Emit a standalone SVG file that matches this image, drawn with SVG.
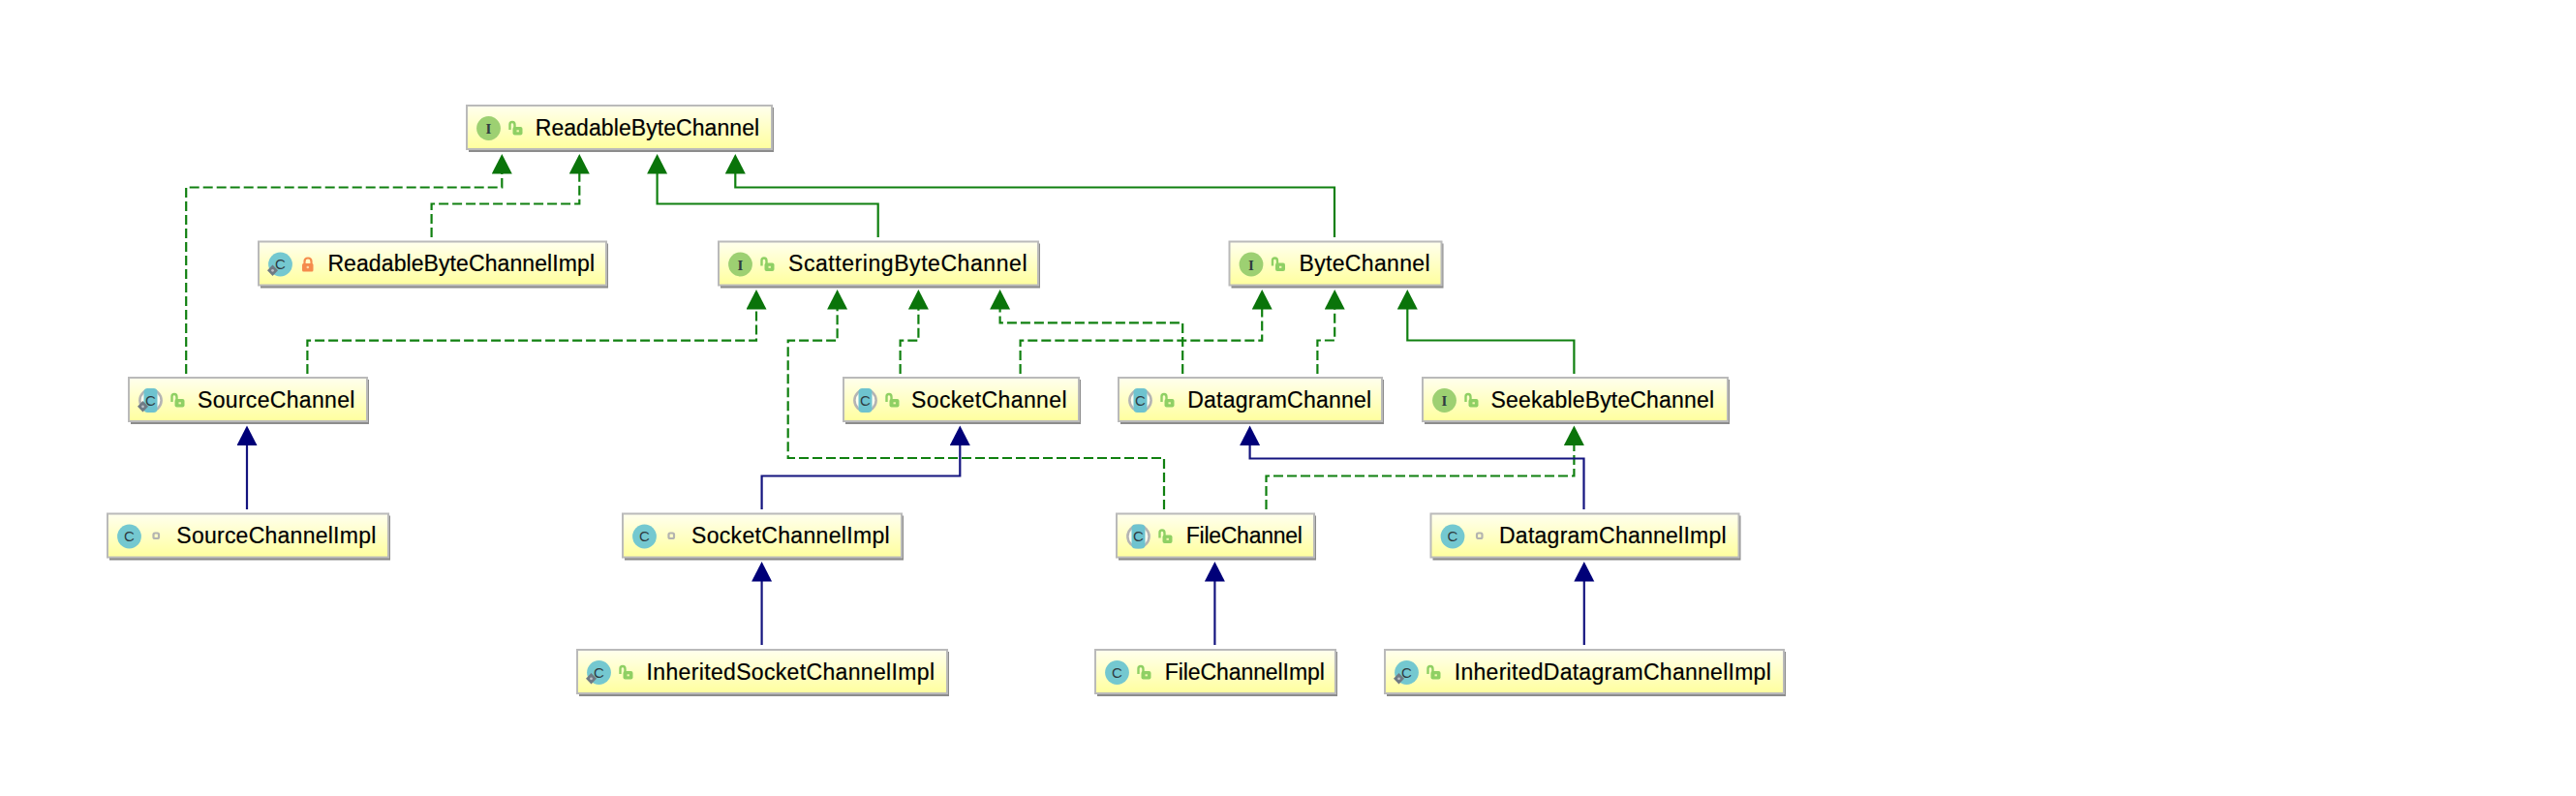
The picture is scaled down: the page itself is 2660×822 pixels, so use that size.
<svg xmlns="http://www.w3.org/2000/svg" width="2660" height="822" viewBox="0 0 2660 822">
<style>
text{font-family:"Liberation Sans",Arial,sans-serif;fill:#000}
.lb{font-size:23px;stroke:#000;stroke-width:.2px}
.ic{font-size:15px;fill:#2f3b40;text-anchor:middle}
.ii{font-family:"Liberation Serif",serif;font-weight:bold}
.sh{fill:#8c8c8c}
.bx{fill:url(#nodeFill);stroke:#bababa;stroke-width:2}
.g,.gd,.b{fill:none;stroke-width:2.2}
.g,.gd{stroke:#108010}
.gd{stroke-dasharray:10 4}
.b{stroke:#14147f}
.g,.gd{marker-end:url(#ag)}
.b{marker-end:url(#ab)}
</style>
<defs>
<linearGradient id="nodeFill" x1="0" y1="0" x2="0" y2="1"><stop offset="0" stop-color="#ffffee"/><stop offset="1" stop-color="#ffff9e"/></linearGradient>
<marker id="ag" markerUnits="userSpaceOnUse" markerWidth="22" markerHeight="22" refX="0.5" refY="10.5" orient="auto"><path d="M0,0L20.5,10.5L0,21Z" fill="#0a740a"/></marker>
<marker id="ab" markerUnits="userSpaceOnUse" markerWidth="22" markerHeight="22" refX="0.5" refY="10.5" orient="auto"><path d="M0,0L20.5,10.5L0,21Z" fill="#000078"/></marker>
<g id="iI"><circle cx="23.5" cy="24.5" r="12.4" fill="#9dd072"/></g>
<g id="iC"><circle cx="23.5" cy="24.5" r="12.4" fill="#74c8d0"/></g>
<g id="iA"><circle cx="23.5" cy="24.5" r="12.4" fill="#b4b4b4"/><circle cx="23.5" cy="24.5" r="9.8" fill="#fffff0"/><rect x="16.5" y="12" width="14" height="25" rx="4" fill="#6ec3cf"/></g>
<g id="iD"><path d="M15.5,25L21,30.8L15.5,36.6L10,30.8Z" fill="#6f7a84"/><circle cx="15.5" cy="30.8" r="1.4" fill="#b9c0c6"/></g>
<g id="lO"><path d="M45.5,26V20.5Q45.5,18 48,18Q50.5,18 50.5,21V24" fill="none" stroke="#8fd064" stroke-width="2.4"/><rect x="48.5" y="23" width="10" height="8.5" rx="2" fill="#8fd064"/><rect x="52.5" y="26.3" width="2.4" height="2" fill="#f4f8b0"/></g>
<g id="lC"><path d="M48.5,24.5V21.5Q48.5,18 52,18Q55.5,18 55.5,21.5V24.5" fill="none" stroke="#f58b4c" stroke-width="2.2"/><rect x="46" y="23.5" width="11.5" height="8.5" rx="1.5" fill="#f58b4c"/><circle cx="51.8" cy="27.5" r="1.3" fill="#fdd9a8"/></g>
<g id="lR"><rect x="48.5" y="21" width="5.5" height="5.5" rx="1.5" fill="none" stroke="#b4b4b0" stroke-width="2.2"/></g>
</defs>

<g id="connectors">
<path class="gd" d="M192.2,386V193.5H518.3V179"/>
<path class="gd" d="M445.6,245V210.5H598.3V179"/>
<path class="g" d="M906.7,245V210.5H678.6V179"/>
<path class="g" d="M1378,245V193.5H759.3V179"/>
<path class="gd" d="M317.4,386V351.7H781V319"/>
<path class="gd" d="M1202,526V473H813.7V351.7H864.6V319"/>
<path class="gd" d="M929.6,386V351.7H948.4V319"/>
<path class="gd" d="M1221.2,386V333.3H1032.6V319"/>
<path class="gd" d="M1053.6,386V351.7H1303.2V319"/>
<path class="gd" d="M1360.4,386V351.5H1378.2V319"/>
<path class="g" d="M1625.4,386V351.5H1453.3V319"/>
<path class="gd" d="M1307.5,526V491.5H1625.4V459.5"/>
<path class="b" d="M1635.5,526V473.5H1290.6V459.5"/>
<path class="b" d="M786.6,526V491.5H991.3V459.5"/>
<path class="b" d="M255,526V459.5"/>
<path class="b" d="M786.6,666V600"/>
<path class="b" d="M1254.4,666V600"/>
<path class="b" d="M1635.8,666V600"/>
</g>

<g id="ReadableByteChannel" transform="translate(481,108)"><rect class="sh" x="3" y="3" width="315" height="46"/><rect class="bx" x="1" y="1" width="315" height="45"/><use href="#iI"/><text class="ic ii" x="23.5" y="30">I</text><use href="#lO"/><text class="lb" x="71.7" y="31.5" textLength="231.5">ReadableByteChannel</text></g>
<g id="ReadableByteChannelImpl" transform="translate(266,248.5)"><rect class="sh" x="3" y="3" width="359" height="46"/><rect class="bx" x="1" y="1" width="359" height="45"/><use href="#iC"/><text class="ic" x="23.5" y="29.5">C</text><use href="#iD"/><use href="#lC"/><text class="lb" x="72.4" y="31.5" textLength="275.6">ReadableByteChannelImpl</text></g>
<g id="SourceChannel" transform="translate(132,389)"><rect class="sh" x="3" y="3" width="246" height="46"/><rect class="bx" x="1" y="1" width="246" height="45"/><use href="#iA"/><text class="ic" x="23.5" y="29.5">C</text><use href="#iD"/><use href="#lO"/><text class="lb" x="72" y="31.5" textLength="162.4">SourceChannel</text></g>
<g id="ScatteringByteChannel" transform="translate(741,248.5)"><rect class="sh" x="3" y="3" width="330" height="46"/><rect class="bx" x="1" y="1" width="330" height="45"/><use href="#iI"/><text class="ic ii" x="23.5" y="30">I</text><use href="#lO"/><text class="lb" x="73" y="31.5" textLength="246.5">ScatteringByteChannel</text></g>
<g id="ByteChannel" transform="translate(1268.5,248.5)"><rect class="sh" x="3" y="3" width="219" height="46"/><rect class="bx" x="1" y="1" width="219" height="45"/><use href="#iI"/><text class="ic ii" x="23.5" y="30">I</text><use href="#lO"/><text class="lb" x="73" y="31.5" textLength="135">ByteChannel</text></g>
<g id="SocketChannel" transform="translate(870,389)"><rect class="sh" x="3" y="3" width="243" height="46"/><rect class="bx" x="1" y="1" width="243" height="45"/><use href="#iA"/><text class="ic" x="23.5" y="29.5">C</text><use href="#lO"/><text class="lb" x="71" y="31.5" textLength="160.5">SocketChannel</text></g>
<g id="DatagramChannel" transform="translate(1154,389)"><rect class="sh" x="3" y="3" width="272" height="46"/><rect class="bx" x="1" y="1" width="272" height="45"/><use href="#iA"/><text class="ic" x="23.5" y="29.5">C</text><use href="#lO"/><text class="lb" x="72.2" y="31.5" textLength="190">DatagramChannel</text></g>
<g id="SeekableByteChannel" transform="translate(1468,389)"><rect class="sh" x="3" y="3" width="315" height="46"/><rect class="bx" x="1" y="1" width="315" height="45"/><use href="#iI"/><text class="ic ii" x="23.5" y="30">I</text><use href="#lO"/><text class="lb" x="71.5" y="31.5" textLength="230.5">SeekableByteChannel</text></g>
<g id="SourceChannelImpl" transform="translate(110,529.5)"><rect class="sh" x="3" y="3" width="290" height="46"/><rect class="bx" x="1" y="1" width="290" height="45"/><use href="#iC"/><text class="ic" x="23.5" y="29.5">C</text><use href="#lR"/><text class="lb" x="72.3" y="31.5" textLength="206">SourceChannelImpl</text></g>
<g id="SocketChannelImpl" transform="translate(642,529.5)"><rect class="sh" x="3" y="3" width="288" height="46"/><rect class="bx" x="1" y="1" width="288" height="45"/><use href="#iC"/><text class="ic" x="23.5" y="29.5">C</text><use href="#lR"/><text class="lb" x="72" y="31.5" textLength="204.7">SocketChannelImpl</text></g>
<g id="FileChannel" transform="translate(1152,529.5)"><rect class="sh" x="3" y="3" width="204" height="46"/><rect class="bx" x="1" y="1" width="204" height="45"/><use href="#iA"/><text class="ic" x="23.5" y="29.5">C</text><use href="#lO"/><text class="lb" x="72.8" y="31.5" textLength="120">FileChannel</text></g>
<g id="DatagramChannelImpl" transform="translate(1476.5,529.5)"><rect class="sh" x="3" y="3" width="318" height="46"/><rect class="bx" x="1" y="1" width="318" height="45"/><use href="#iC"/><text class="ic" x="23.5" y="29.5">C</text><use href="#lR"/><text class="lb" x="71.5" y="31.5" textLength="234.7">DatagramChannelImpl</text></g>
<g id="InheritedSocketChannelImpl" transform="translate(595,670)"><rect class="sh" x="3" y="3" width="382" height="46"/><rect class="bx" x="1" y="1" width="382" height="45"/><use href="#iC"/><text class="ic" x="23.5" y="29.5">C</text><use href="#iD"/><use href="#lO"/><text class="lb" x="72.6" y="31.5" textLength="297.4">InheritedSocketChannelImpl</text></g>
<g id="FileChannelImpl" transform="translate(1130,670)"><rect class="sh" x="3" y="3" width="248" height="46"/><rect class="bx" x="1" y="1" width="248" height="45"/><use href="#iC"/><text class="ic" x="23.5" y="29.5">C</text><use href="#lO"/><text class="lb" x="72.8" y="31.5" textLength="165">FileChannelImpl</text></g>
<g id="InheritedDatagramChannelImpl" transform="translate(1429,670)"><rect class="sh" x="3" y="3" width="412" height="46"/><rect class="bx" x="1" y="1" width="412" height="45"/><use href="#iC"/><text class="ic" x="23.5" y="29.5">C</text><use href="#iD"/><use href="#lO"/><text class="lb" x="72.8" y="31.5" textLength="327">InheritedDatagramChannelImpl</text></g>
</svg>
